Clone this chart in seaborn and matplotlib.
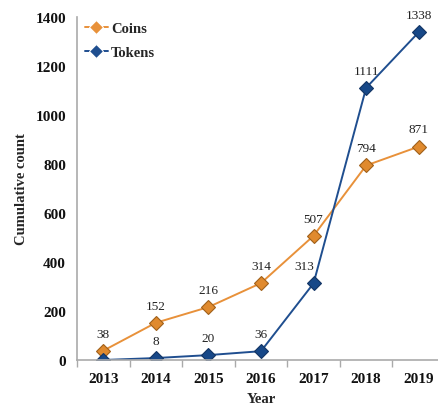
import matplotlib
matplotlib.use("Agg")
import matplotlib.pyplot as plt
import seaborn as sns
import pandas as pd
import numpy as np

years = ["2013", "2014", "2015", "2016", "2017", "2018", "2019"]
coins = [38, 152, 216, 314, 507, 794, 871]
tokens = [0, 8, 20, 36, 313, 1111, 1338]
token_labels = ["", "8", "20", "36", "313", "1111", "1338"]
coin_labels = ["38", "152", "216", "314", "507", "794", "871"]
yticks = [0, 200, 400, 600, 800, 1000, 1200, 1400]

sns.set_theme(style="white")
plt.rcParams['font.family'] = ['Liberation Serif', 'DejaVu Serif']

df = pd.DataFrame({
    "Year": years * 2,
    "count": coins + tokens,
    "series": ["Coins"] * len(years) + ["Tokens"] * len(years),
})

fig = plt.figure(figsize=(4.38, 4.14), dpi=100)
ax = fig.add_axes([77/438, 53/414, 368/438, 343/414])

palette = {"Coins": "#E8913A", "Tokens": "#1F4E8F"}
sns.lineplot(data=df, x="Year", y="count", hue="series", palette=palette,
             marker="D", markersize=7.5, linewidth=1.4, ax=ax, legend=True)
edge = {"Coins": "#A0601A", "Tokens": "#133564"}
face = {"Coins": "#E08A2E", "Tokens": "#174888"}
for line, name in zip(ax.get_lines()[:2], ["Coins", "Tokens"]):
    line.set_markerfacecolor(face[name])
    line.set_markeredgecolor(edge[name])
    line.set_markeredgewidth(0.8)

for i, (c, lab) in enumerate(zip(coins, coin_labels)):
    ax.annotate(lab, (i, c), xytext=(0, 8), textcoords="offset points",
                ha="center", va="bottom", fontsize=9.5, color="#222222")
for i, (t, lab) in enumerate(zip(tokens, token_labels)):
    if not lab:
        continue
    dx = -7 if lab == "313" else 0
    ax.annotate(lab, (i, t), xytext=(dx, 8), textcoords="offset points",
                ha="center", va="bottom", fontsize=9.5, color="#222222")

ax.set_xlim(-0.5, 6.5)
ax.set_ylim(0, 1400)
ax.set_yticks(yticks)
ax.set_yticklabels([str(v) for v in yticks], fontweight="bold", fontsize=11)
ax.set_xticks(range(len(years)))
ax.set_xticklabels(years, fontweight="bold", fontsize=11)
ax.set_xticks(np.arange(-0.5, 7, 1), minor=True)
ax.tick_params(axis="x", which="major", length=0, pad=9, colors="#111111")
ax.tick_params(axis="x", which="minor", length=5, direction="out", color="#AAAAAA", width=1, bottom=True)
ax.tick_params(axis="y", length=5, direction="out", color="#AAAAAA", width=1, pad=3, labelcolor="#111111")

for s in ["top", "right"]:
    ax.spines[s].set_visible(False)
for s in ["left", "bottom"]:
    ax.spines[s].set_color("#AAAAAA")
    ax.spines[s].set_linewidth(1.2)

ax.set_xlabel("Year", fontweight="bold", fontsize=10.5, labelpad=5)
ax.set_ylabel("Cumulative count", fontweight="bold", fontsize=10.5, labelpad=5)

leg = ax.legend(loc="upper left", bbox_to_anchor=(-0.015, 1.025), frameon=False,
                prop={"weight": "bold", "size": 10.5}, handlelength=1.6,
                labelspacing=0.75, handletextpad=0.2, borderaxespad=0.5)

fig.savefig("out.png", dpi=100)
